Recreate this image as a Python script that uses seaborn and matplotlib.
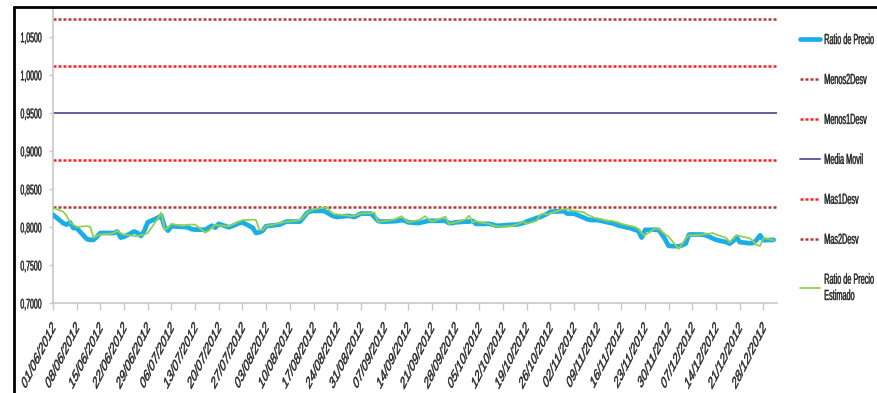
import numpy as np
import pandas as pd
import matplotlib
matplotlib.use("Agg")
import matplotlib.pyplot as plt
from matplotlib.lines import Line2D
from matplotlib.patheffects import AbstractPathEffect
from matplotlib.transforms import Affine2D
import seaborn as sns

# ratio diario (dias habiles 01/06/2012 - 31/12/2012)
ratio_jun = [0.816, 0.805, 0.803, 0.806, 0.7985, 0.7985, 0.784, 0.783, 0.783, 0.787, 0.792,
             0.792, 0.792, 0.794, 0.786, 0.787, 0.794, 0.792, 0.788, 0.795, 0.806]
ratio_jul = [0.812, 0.815, 0.800, 0.795, 0.801, 0.800, 0.800, 0.799, 0.797, 0.7965, 0.7963,
             0.799, 0.8016, 0.799, 0.804, 0.7995, 0.801, 0.803, 0.805, 0.806, 0.799, 0.792]
ratio_aug = [0.793, 0.795, 0.801, 0.8025, 0.803, 0.805, 0.807, 0.807, 0.807, 0.812, 0.818, 0.8205,
             0.821, 0.821, 0.819, 0.816, 0.814, 0.813, 0.8145, 0.814, 0.813, 0.815, 0.8175]
ratio_sep = [0.8175, 0.813, 0.808, 0.807, 0.807, 0.8075, 0.808, 0.809, 0.808, 0.806,
             0.805, 0.806, 0.807, 0.808, 0.808, 0.808, 0.808, 0.805, 0.805, 0.806]
ratio_oct = [0.807, 0.807, 0.808, 0.804, 0.804, 0.804, 0.803, 0.8016, 0.8016, 0.802, 0.803, 0.803,
             0.804, 0.805, 0.807, 0.8117, 0.813, 0.815, 0.817, 0.820, 0.8205, 0.8205, 0.8175]
ratio_nov = [0.8175, 0.8175, 0.812, 0.810, 0.809, 0.809, 0.809, 0.806, 0.805, 0.804, 0.802,
             0.801, 0.798, 0.796, 0.795, 0.786, 0.796, 0.7963, 0.796, 0.790, 0.783, 0.775]
ratio_dec = [0.7745, 0.776, 0.778, 0.790, 0.790, 0.790, 0.789, 0.787, 0.785, 0.783, 0.780,
             0.778, 0.781, 0.7867, 0.780, 0.7785, 0.779, 0.783, 0.789, 0.7825, 0.783]

# ratio estimado
est_jun = [0.825, 0.820, 0.815, 0.806, 0.803, 0.800, 0.801, 0.800, 0.786, 0.788, 0.790,
           0.791, 0.792, 0.795, 0.792, 0.790, 0.788, 0.788, 0.789, 0.790, 0.792]
est_jul = [0.811, 0.819, 0.796, 0.799, 0.804, 0.8016, 0.802, 0.803, 0.803, 0.803, 0.7925,
           0.795, 0.799, 0.803, 0.802, 0.801, 0.803, 0.805, 0.807, 0.809, 0.8095, 0.809]
est_aug = [0.796, 0.796, 0.801, 0.804, 0.805, 0.806, 0.807, 0.807, 0.809, 0.813, 0.818, 0.821,
           0.823, 0.8255, 0.826, 0.820, 0.817, 0.8165, 0.815, 0.814, 0.8145, 0.816, 0.8175]
est_sep = [0.818, 0.819, 0.807, 0.807, 0.8075, 0.810, 0.812, 0.814, 0.810, 0.806,
           0.809, 0.811, 0.814, 0.810, 0.807, 0.8117, 0.8135, 0.804, 0.805, 0.806]
est_oct = [0.810, 0.8148, 0.806, 0.808, 0.806, 0.804, 0.802, 0.801, 0.800, 0.8005, 0.8016, 0.803,
           0.805, 0.807, 0.804, 0.808, 0.816, 0.8175, 0.816, 0.818, 0.822, 0.823, 0.8236]
est_nov = [0.822, 0.821, 0.819, 0.816, 0.814, 0.812, 0.811, 0.808, 0.808, 0.807, 0.806,
           0.804, 0.801, 0.800, 0.7975, 0.792, 0.789, 0.798, 0.797, 0.794, 0.790, 0.787]
est_dec = [0.771, 0.778, 0.785, 0.789, 0.789, 0.790, 0.791, 0.791, 0.792, 0.790, 0.7855,
           0.780, 0.784, 0.789, 0.788, 0.785, 0.781, 0.776, 0.775, 0.7855, 0.7825]

# bandas
media_movil = 0.9497
menos2desv = 0.8265
menos1desv = 0.8881
mas1desv = 1.0113
mas2desv = 1.0729

y_ticks = [0.70, 0.75, 0.80, 0.85, 0.90, 0.95, 1.00, 1.05]

fechas = pd.bdate_range("2012-06-01", "2012-12-31")
ratio = ratio_jun + ratio_jul + ratio_aug + ratio_sep + ratio_oct + ratio_nov + ratio_dec
estimado = est_jun + est_jul + est_aug + est_sep + est_oct + est_nov + est_dec
df = pd.DataFrame({"fecha": fechas, "ratio": ratio, "estimado": estimado})


# el grafico original esta "aplastado" horizontalmente: texto estrecho
class Squeeze(AbstractPathEffect):
    def __init__(self, sx=0.5, anchor="left", stroke=0.3):
        super().__init__()
        self.sx = sx
        self.anchor = anchor
        self.stroke = stroke

    def draw_path(self, renderer, gc, tpath, affine, rgbFace=None):
        ext = tpath.get_extents(affine)
        x0 = ext.x1 if self.anchor == "right" else ext.x0
        sq = Affine2D().translate(-x0, 0).scale(self.sx, 1).translate(x0, 0)
        gc0 = renderer.new_gc()
        gc0.copy_properties(gc)
        gc0.set_linewidth(self.stroke)
        gc0.set_foreground(rgbFace)
        renderer.draw_path(gc0, tpath, affine + sq, rgbFace)


sns.set_style("white")
plt.rcParams["font.family"] = ["Liberation Sans", "DejaVu Sans"]

fig = plt.figure(figsize=(8.78, 3.93), dpi=100)
ax = fig.add_axes([53 / 878, 1 - 303 / 393, (777 - 53) / 878, (303 - 7) / 393])

rojo = "#FF2020"
granate = "#B03A3A"
dots = (0, (1.2, 0.8))

sns.lineplot(data=df, x="fecha", y="ratio", ax=ax, color="#1AAEE8", lw=3.4,
             label="Ratio de Precio", zorder=3)
ax.axhline(menos2desv, color=granate, ls=dots, lw=1.8, label="Menos2Desv")
ax.axhline(menos1desv, color=rojo, ls=dots, lw=1.8, label="Menos1Desv")
ax.axhline(media_movil, color="#6A5A9C", lw=1.4, label="Media Movil")
ax.axhline(mas1desv, color=rojo, ls=dots, lw=1.8, label="Mas1Desv")
ax.axhline(mas2desv, color=granate, ls=dots, lw=1.8, label="Mas2Desv")
sns.lineplot(data=df, x="fecha", y="estimado", ax=ax, color="#92D050", lw=1.3,
             label="Ratio de Precio\nEstimado", zorder=4)

ax.set_xlim(pd.Timestamp("2012-06-01"), pd.Timestamp("2013-01-01"))
ax.set_ylim(0.70, 1.089)
ax.set_yticks(y_ticks)
ax.set_yticklabels([f"{v:.4f}".replace(".", ",") for v in y_ticks])
ticks = pd.date_range("2012-06-01", "2012-12-28", freq="7D")
ax.set_xticks(ticks)
ax.set_xticklabels([t.strftime("%d/%m/%Y") for t in ticks], rotation=45,
                   ha="right", va="center", rotation_mode="anchor")
ax.set_xlabel("")
ax.set_ylabel("")

for s in ["top", "right"]:
    ax.spines[s].set_visible(False)
for s in ["left", "bottom"]:
    ax.spines[s].set_color("#C8C8C8")
    ax.spines[s].set_linewidth(1.2)
ax.tick_params(axis="y", length=3, width=1, color="#C8C8C8", labelsize=10,
               labelcolor="#262626", pad=5, left=True)
ax.tick_params(axis="x", length=5, width=1, color="#C8C8C8", labelsize=12.5,
               labelcolor="#262626", pad=11, bottom=True)
for t in ax.get_yticklabels():
    t.set_path_effects([Squeeze(0.5, "right")])
for t in ax.get_xticklabels():
    t.set_path_effects([Squeeze(0.5, "right")])

ax.get_legend().remove()
h, l = ax.get_legend_handles_labels()
leg = fig.legend(h, l, loc="upper left", bbox_to_anchor=(800 / 878, 1 - 33 / 393),
                 frameon=False, fontsize=10.5, handlelength=1.4, handletextpad=0.22,
                 labelspacing=1.78, borderpad=0, borderaxespad=0)
for t in leg.get_texts():
    t.set_color("#262626")
    t.set_path_effects([Squeeze(0.5, "left")])

# borde del grafico (izquierda y arriba)
fig.add_artist(Line2D([14 / 878, 14 / 878], [0, 1 - 7 / 393], transform=fig.transFigure,
                      color="black", lw=2))
fig.add_artist(Line2D([14 / 878, 1], [1 - 7 / 393, 1 - 7 / 393], transform=fig.transFigure,
                      color="black", lw=2))

fig.savefig("out.png", dpi=100)
